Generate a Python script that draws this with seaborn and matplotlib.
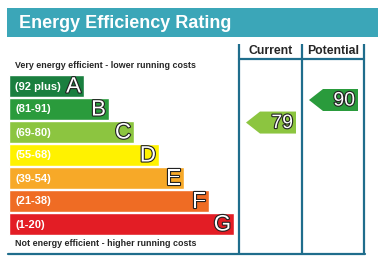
import matplotlib
matplotlib.use("Agg")
import matplotlib.pyplot as plt
import matplotlib.patheffects as pe
from matplotlib.patches import Polygon, Rectangle
import seaborn as sns

# EPC bands
bands = ["A", "B", "C", "D", "E", "F", "G"]
ranges = ["(92 plus)", "(81-91)", "(69-80)", "(55-68)", "(39-54)", "(21-38)", "(1-20)"]
band_min = [92, 81, 69, 55, 39, 21, 1]
bar_len = [3, 4, 5, 6, 7, 8, 9]  # in steps of one band width
colors = ["#1a7f3f", "#2a9b3c", "#8cc540", "#fff200", "#f7a928", "#ef6c24", "#e31d25"]

current = 79
potential = 90

title = "Energy Efficiency Rating"
top_note = "Very energy efficient - lower running costs"
bottom_note = "Not energy efficient - higher running costs"

teal = "#3ba6b8"
line_col = "#1f6d8c"

W, H = 378, 261
sns.set_style("white")
plt.rcParams["font.family"] = ["Liberation Sans", "DejaVu Sans"]

fig = plt.figure(figsize=(W / 100, H / 100), dpi=100)

# bars, drawn with seaborn in an axes laid over the band area
x0, top, pitch, unit = 9, 74.5, 23, 25
bax = fig.add_axes([x0 / W, 1 - (top + 7 * pitch) / H, (W - x0) / W, 7 * pitch / H])
sns.barplot(x=bar_len, y=bands, hue=bands, palette=colors, orient="h",
            width=22 / 23, legend=False, ax=bax, saturation=1)
bax.set_xlim(0, (W - x0) / unit)
bax.set_ylim(6.5, -0.5)
bax.axis("off")

# everything else in pixel coordinates, on top
ax = fig.add_axes([0, 0, 1, 1])
ax.set_xlim(0, W)
ax.set_ylim(H, 0)
ax.axis("off")

# title banner
ax.add_patch(Rectangle((7, 8), W - 7, 29, color=teal, lw=0))
ax.text(19, 23, title, color="white", fontsize=13, fontweight="bold", va="center")

outline = [pe.withStroke(linewidth=1.6, foreground="#222222")]
for i, (b, r, n) in enumerate(zip(bands, ranges, bar_len)):
    yc = top + pitch / 2 + i * pitch
    ax.text(15, yc + 0.5, r, color="white", fontsize=8, fontweight="bold", va="center")
    ax.text(x0 + n * unit - 3, yc + 1, b, color="white", fontsize=16, ha="right",
            va="center", path_effects=outline)

ax.text(15, 65, top_note, fontsize=6.4, fontweight="bold", va="center")
ax.text(15, 243, bottom_note, fontsize=6.4, fontweight="bold", va="center")

# columns
cols = [239, 302, 364]
for x in cols:
    ax.plot([x, x], [44, 254], color=line_col, lw=1.6, solid_capstyle="butt")
ax.plot([8, cols[-1] + 1], [254, 254], color=line_col, lw=1.6)
ax.plot([cols[0], cols[-1]], [59, 59], color=line_col, lw=1.6)
ax.text((cols[0] + cols[1]) / 2, 51, "Current", fontsize=8.8, fontweight="bold",
        ha="center", va="center")
ax.text((cols[1] + cols[2]) / 2, 51, "Potential", fontsize=8.8, fontweight="bold",
        ha="center", va="center")


def band_of(v):
    return next(i for i, m in enumerate(band_min) if v >= m)


def rating_y(v):
    return 100 + (90 - v) * 2.05


for v, (l, r) in [(current, cols[0:2]), (potential, cols[1:3])]:
    yc = rating_y(v)
    tip, right, h = l + 7, r - 6, 22
    pts = [(tip, yc), (tip + 14, yc - h / 2), (right, yc - h / 2),
           (right, yc + h / 2), (tip + 14, yc + h / 2)]
    ax.add_patch(Polygon(pts, closed=True, color=colors[band_of(v)], lw=0))
    ax.text(right - 3, yc + 1, str(v), color="white", fontsize=14, ha="right",
            va="center", path_effects=outline)

fig.savefig("out.png", dpi=100)
